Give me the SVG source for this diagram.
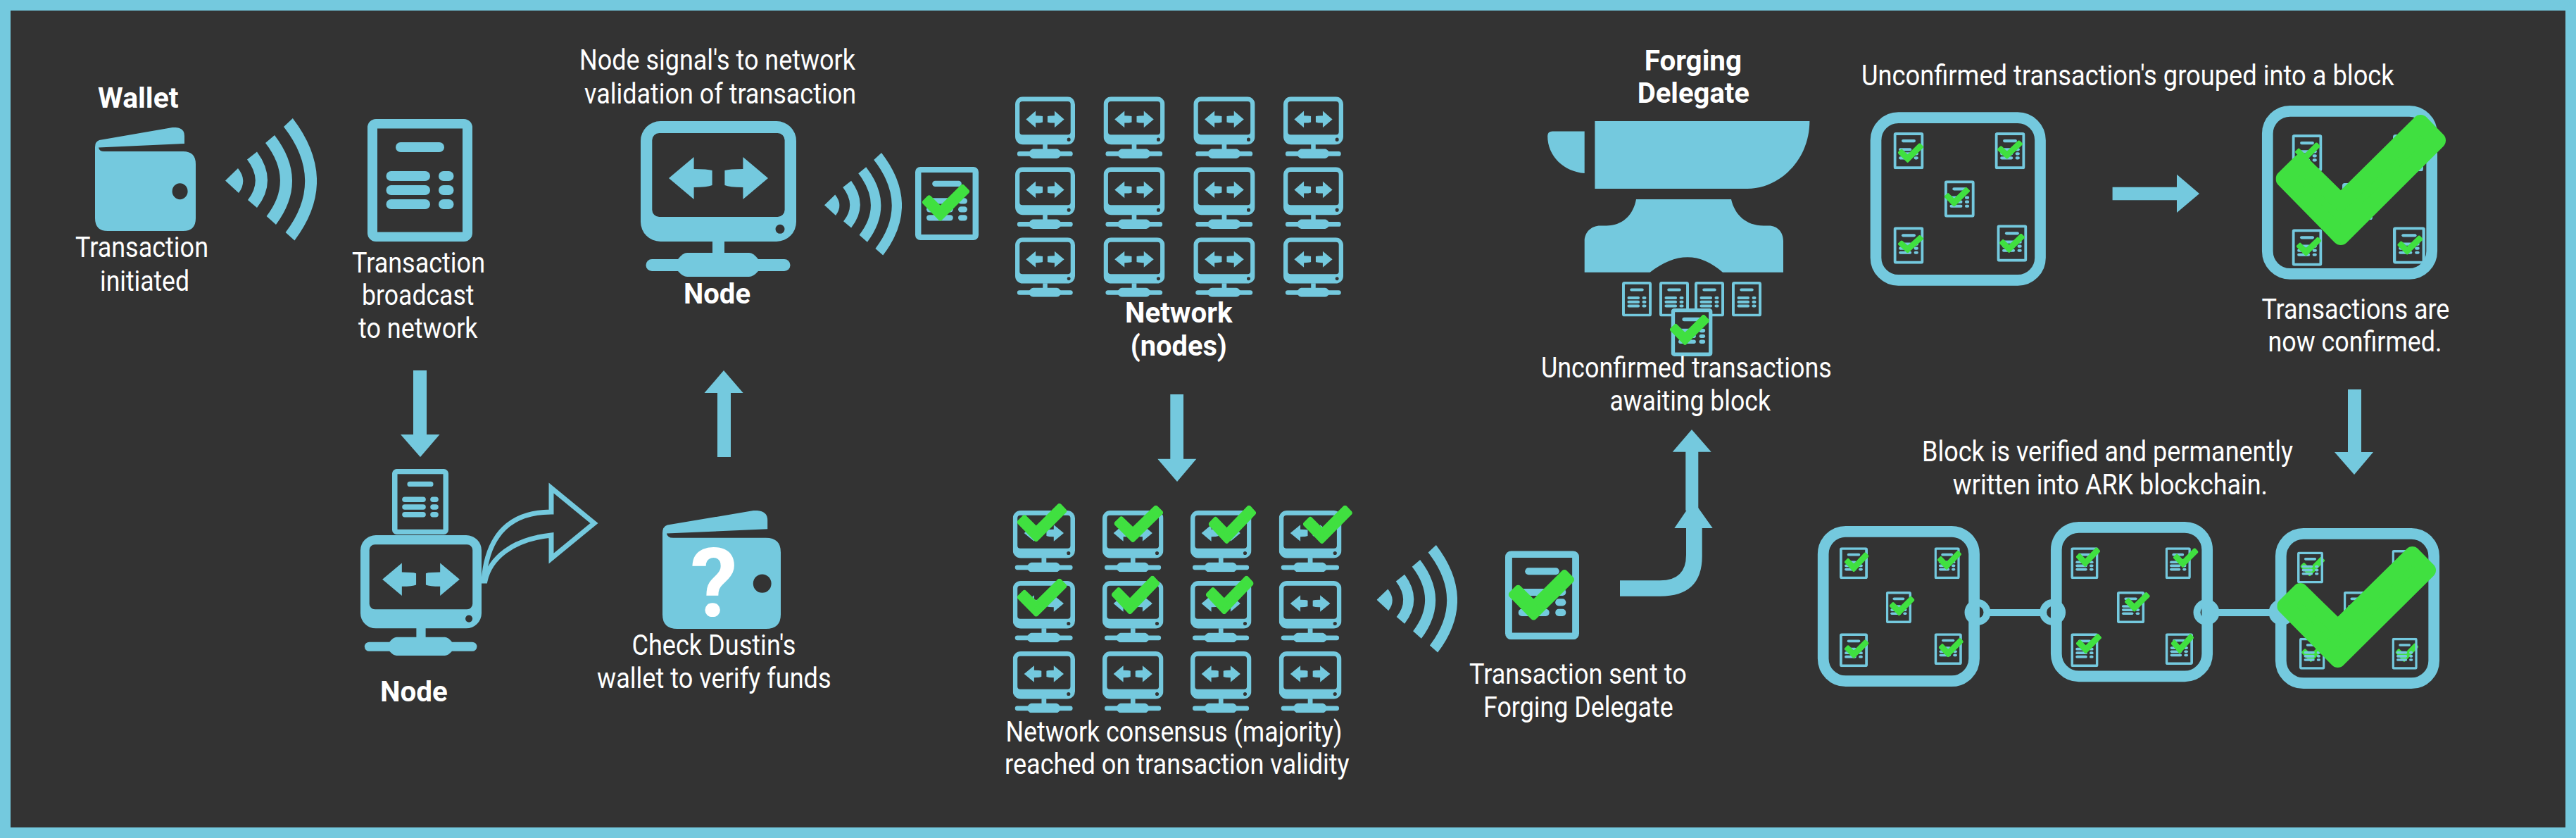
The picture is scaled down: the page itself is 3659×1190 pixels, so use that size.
<svg xmlns="http://www.w3.org/2000/svg" width="3659" height="1190" viewBox="0 0 3659 1190">
<style>
.b{fill:#74c9de}
.g{fill:#40e040;stroke:#40e040;stroke-width:24;stroke-linejoin:round}
.frame{fill:none;stroke:#74c9de;stroke-width:15.7}
.ring{fill:none;stroke:#74c9de;stroke-width:10}
text{font-family:Roboto,"Liberation Sans",sans-serif;font-size:40px;fill:#fff}
.h{font-weight:700}
</style>
<defs>
<symbol id="wallet" viewBox="0 0 143 147" preserveAspectRatio="none">
<path class="b" fill-rule="evenodd" d="M0 28Q0 20 6 18L110 0Q127 -1 127 12V23L5 28.5Q6 34 13 34H125Q143 34 143 52V129Q143 147 125 147H18Q0 147 0 129ZM109.600 90.700a11 11.500 0 1 0 22 0a11 11.500 0 1 0 -22 0Z"/>
</symbol>
<symbol id="doc" viewBox="0 0 149 174" preserveAspectRatio="none">
<path class="b" fill-rule="evenodd" d="M12 0H137A12 12 0 0 1 149 12V162A12 12 0 0 1 137 174H12A12 12 0 0 1 0 162V12A12 12 0 0 1 12 0ZM14 13.500V160.500H135V13.500Z"/>
<rect class="b" x="40" y="33" width="69" height="14" rx="7"/>
<rect class="b" x="26.500" y="74" width="62.500" height="14" rx="7"/>
<rect class="b" x="26.500" y="94" width="62.500" height="14" rx="7"/>
<rect class="b" x="26.500" y="114" width="62.500" height="14" rx="7"/>
<rect class="b" x="101" y="74" width="21.500" height="14" rx="7"/>
<rect class="b" x="101" y="94" width="21.500" height="14" rx="7"/>
<rect class="b" x="101" y="114" width="21.500" height="14" rx="7"/>
</symbol>
<symbol id="monitor" viewBox="0 0 221 221" preserveAspectRatio="none">
<path class="b" fill-rule="evenodd" d="M28 0H193A28 28 0 0 1 221 28V143A28 28 0 0 1 193 171H28A28 28 0 0 1 0 143V28A28 28 0 0 1 28 0ZM26.300 17A10 10 0 0 0 16.300 27V126A10 10 0 0 0 26.300 136H194.600A10 10 0 0 0 204.600 126V27A10 10 0 0 0 194.600 17ZM191.500 153.300a6.500 6.500 0 1 0 13 0a6.500 6.500 0 1 0 -13 0Z"/>
<rect class="b" x="102" y="170" width="17" height="20"/>
<path class="b" d="M66 187H154Q160 187 167 196V213Q160 221 154 221H66Q60 221 53 213V196Q60 187 66 187Z"/>
<rect class="b" x="7.500" y="196" width="205" height="17" rx="8.500"/>
<path class="b" d="M40 81L75.600 51V68Q95 68 101.600 70V91Q95 94 75.600 94V111Z"/>
<path class="b" d="M181 81L145.400 51V68Q126 68 119.400 70V91Q126 94 145.400 94V111Z"/>
</symbol>
<symbol id="wifi" viewBox="0 0 130 174" preserveAspectRatio="none">
<path class="b" d="M0 88.500L18 71Q32 88.500 19 106Z"/>
<path class="b" d="M45 47.500Q75 88.500 45 127L32 116Q54 88.500 31 58.500Z"/>
<path class="b" d="M70 24Q119 88 72 151L58.600 139Q98 88 57 35Z"/>
<path class="b" d="M95.800 0Q163 88 98.400 173.500L85.600 162Q142 88 83 12Z"/>
</symbol>
<symbol id="check" viewBox="0 0 241.500 186" preserveAspectRatio="none">
<polygon class="g" points="12,91 35.300,68 92.400,124 205.800,12 229.500,36.400 92.400,173"/>
</symbol>
</defs>
<rect id="background" width="3659" height="1190" fill="#74c9de"/>
<rect x="15" y="15" width="3629" height="1160" fill="#333"/>

<g id="connectors">
<path id="arrow-to-node" class="b" d="M587 526H606V617H624.500L597 649L569 617H587Z"/>
<path id="arrow-to-signal" class="b" d="M1019 649V558H1000.500L1028 526L1055.600 558H1038V649Z"/>
<path id="arrow-to-consensus" class="b" d="M1662.300 560H1681V651.700H1699.300L1672 684L1644.300 651.700H1662.300Z"/>
<path id="arrow-to-confirmed" class="b" d="M3092 265.700V247.700L3124 275L3092 302V284.300H3000.600V265.700Z"/>
<path id="arrow-to-chain" class="b" d="M3335 553H3354V642H3371L3344 674L3316 642H3335Z"/>
<path id="arrow-check-wallet" fill="none" stroke="#74c9de" stroke-width="7" stroke-linejoin="miter" d="M687 825C691 770 716 727 783 727V693L844 743L783 793V760C727 766 696 793 689 825Z"/>
<path id="arrow-to-forge-lower" class="b" d="M2301 824.300H2358Q2395 824.300 2395 788V750H2378.300L2405 711L2432.700 750H2417.700V790Q2417.700 846.700 2358 846.700H2301Z"/>
<path id="arrow-to-forge-upper" class="b" d="M2394.300 725V641.700H2375.700L2403 610L2430.700 641.700H2412.300V725Z"/>
<rect class="b" x="2825" y="865" width="75" height="10"/>
<circle class="ring" cx="2809" cy="869.500" r="13.500"/>
<circle class="ring" cx="2915.600" cy="869.500" r="13.500"/>
<rect class="b" x="3150" y="865" width="75" height="10"/>
<circle class="ring" cx="3134" cy="869.500" r="13.500"/>
<circle class="ring" cx="3241" cy="869.500" r="13.500"/>
</g>

<g id="wallet-start">
<text class="h" x="139" y="152.700" textLength="114.600" lengthAdjust="spacingAndGlyphs">Wallet</text>
<use href="#wallet" x="135" y="181" width="143" height="147"/>
<text x="107" y="365" textLength="189" lengthAdjust="spacingAndGlyphs">Transaction</text>
<text x="142" y="412.700" textLength="127" lengthAdjust="spacingAndGlyphs">initiated</text>
<use href="#wifi" x="320" y="168" width="130" height="174"/>
</g>

<g id="broadcast">
<use href="#doc" x="522" y="169" width="149" height="174"/>
<text x="500" y="387" textLength="189" lengthAdjust="spacingAndGlyphs">Transaction</text>
<text x="514" y="433" textLength="159.500" lengthAdjust="spacingAndGlyphs">broadcast</text>
<text x="509" y="480" textLength="169.600" lengthAdjust="spacingAndGlyphs">to network</text>
</g>

<g id="node-receive">
<use href="#doc" x="557" y="666" width="80" height="93"/>
<use href="#monitor" x="512" y="760" width="172" height="171"/>
<text class="h" x="540" y="996" textLength="95.700" lengthAdjust="spacingAndGlyphs">Node</text>
</g>

<g id="check-wallet">
<use href="#wallet" x="941" y="725" width="168" height="168"/>
<text class="h" x="1014" y="875" text-anchor="middle" style="font-size:135px">?</text>
<text x="897.500" y="930" textLength="233" lengthAdjust="spacingAndGlyphs">Check Dustin's</text>
<text x="848" y="977" textLength="332.600" lengthAdjust="spacingAndGlyphs">wallet to verify funds</text>
</g>

<g id="node-signal">
<text x="823" y="99" textLength="392" lengthAdjust="spacingAndGlyphs">Node signal's to network</text>
<text x="830" y="146.700" textLength="386" lengthAdjust="spacingAndGlyphs">validation of transaction</text>
<use href="#monitor" x="910" y="172" width="221" height="221"/>
<text class="h" x="971" y="430.700" textLength="95" lengthAdjust="spacingAndGlyphs">Node</text>
<use href="#wifi" x="1171" y="217" width="110" height="146"/>
<use href="#doc" x="1300" y="237" width="90" height="104"/>
<use href="#check" x="1310" y="261.700" width="67" height="52"/>
</g>

<g id="network">
<use href="#monitor" x="1442" y="137.300" width="85" height="87.700"/>
<use href="#monitor" x="1567.500" y="137.300" width="87" height="87.700"/>
<use href="#monitor" x="1695.300" y="137.300" width="87.300" height="87.700"/>
<use href="#monitor" x="1823" y="137.300" width="85" height="87.700"/>
<use href="#monitor" x="1442" y="237.300" width="85" height="87.700"/>
<use href="#monitor" x="1567.500" y="237.300" width="87" height="87.700"/>
<use href="#monitor" x="1695.300" y="237.300" width="87.300" height="87.700"/>
<use href="#monitor" x="1823" y="237.300" width="85" height="87.700"/>
<use href="#monitor" x="1442" y="337.300" width="85" height="84.400"/>
<use href="#monitor" x="1567.500" y="337.300" width="87" height="84.400"/>
<use href="#monitor" x="1695.300" y="337.300" width="87.300" height="84.400"/>
<use href="#monitor" x="1823" y="337.300" width="85" height="84.400"/>
<text class="h" x="1598" y="458" textLength="152.400" lengthAdjust="spacingAndGlyphs">Network</text>
<text class="h" x="1605.800" y="505" textLength="137" lengthAdjust="spacingAndGlyphs">(nodes)</text>
</g>

<g id="network-consensus">
<use href="#monitor" x="1438.700" y="725" width="88.300" height="87.300"/>
<use href="#monitor" x="1566" y="725" width="86.500" height="87.300"/>
<use href="#monitor" x="1691" y="725" width="86.500" height="87.300"/>
<use href="#monitor" x="1816.700" y="725" width="88.800" height="87.300"/>
<use href="#monitor" x="1438.700" y="825" width="88.300" height="87.300"/>
<use href="#monitor" x="1566" y="825" width="86.500" height="87.300"/>
<use href="#monitor" x="1691" y="825" width="86.500" height="87.300"/>
<use href="#monitor" x="1816.700" y="825" width="88.800" height="87.300"/>
<use href="#monitor" x="1438.700" y="925" width="88.300" height="87.300"/>
<use href="#monitor" x="1566" y="925" width="86.500" height="87.300"/>
<use href="#monitor" x="1691" y="925" width="86.500" height="87.300"/>
<use href="#monitor" x="1816.700" y="925" width="88.800" height="87.300"/>
<use href="#check" x="1444.800" y="715" width="70.400" height="54.300"/>
<use href="#check" x="1582.600" y="717.700" width="69.400" height="52.300"/>
<use href="#check" x="1716.700" y="717.700" width="67.300" height="54.300"/>
<use href="#check" x="1851" y="717.700" width="69.800" height="54.300"/>
<use href="#check" x="1444.800" y="821.700" width="70.400" height="54"/>
<use href="#check" x="1579" y="817.700" width="68" height="54.600"/>
<use href="#check" x="1713" y="817.700" width="67.500" height="54.600"/>
<text x="1428.500" y="1052.700" textLength="478" lengthAdjust="spacingAndGlyphs">Network consensus (majority)</text>
<text x="1427" y="1099" textLength="489.700" lengthAdjust="spacingAndGlyphs">reached on transaction validity</text>
<use href="#wifi" x="1955.500" y="774" width="114.500" height="153"/>
</g>

<g id="sent-to-delegate">
<use href="#doc" x="2138" y="782.300" width="105" height="126"/>
<use href="#check" x="2142.700" y="809" width="93.300" height="72"/>
<text x="2087" y="970.700" textLength="308.700" lengthAdjust="spacingAndGlyphs">Transaction sent to</text>
<text x="2107" y="1018" textLength="269.700" lengthAdjust="spacingAndGlyphs">Forging Delegate</text>
</g>

<g id="forging-delegate">
<text class="h" x="2335.700" y="99.600" textLength="138.300" lengthAdjust="spacingAndGlyphs">Forging</text>
<text class="h" x="2325.700" y="145.700" textLength="159.300" lengthAdjust="spacingAndGlyphs">Delegate</text>
<path class="b" d="M2205 186.400H2250.700V246C2222 244 2198 222 2198.200 193Q2198.200 186.400 2205 186.400Z"/>
<path class="b" d="M2265.400 172H2570.400C2570 230 2525 268 2482 268H2265.400Z"/>
<path class="b" d="M2324 283H2459C2464 305 2480 320.400 2505 320.400H2512.500C2525 320.400 2533 330 2533 342V386.800H2447C2415 358 2380 358 2343.600 386.800H2250.700V342C2250.700 330 2260 320.400 2273 320.400H2282C2305 320.400 2320 305 2324 283Z"/>
<use href="#doc" x="2304" y="400" width="42" height="49.600"/>
<use href="#doc" x="2357" y="400" width="42" height="49.600"/>
<use href="#doc" x="2407" y="400" width="42" height="49.600"/>
<use href="#doc" x="2460" y="400" width="42" height="49.600"/>
<rect x="2376" y="440" width="54" height="64" fill="#333"/>
<use href="#doc" x="2373.600" y="437.900" width="59" height="68"/>
<use href="#check" x="2372" y="447" width="56" height="43"/>
<text x="2189" y="536.400" textLength="412.800" lengthAdjust="spacingAndGlyphs">Unconfirmed transactions</text>
<text x="2286.400" y="583" textLength="228.600" lengthAdjust="spacingAndGlyphs">awaiting block</text>
</g>

<text x="2644" y="121" textLength="756.700" lengthAdjust="spacingAndGlyphs">Unconfirmed transaction's grouped into a block</text>

<g id="block-grouped">
<rect class="frame" x="2664.500" y="167.200" width="233.500" height="230.700" rx="32"/>
<use href="#doc" x="2689.500" y="188" width="43" height="52.300"/>
<use href="#doc" x="2833.500" y="188" width="43" height="52.300"/>
<use href="#doc" x="2761.800" y="256.300" width="43" height="52.400"/>
<use href="#doc" x="2689.500" y="322.300" width="43" height="52.400"/>
<use href="#doc" x="2836.400" y="319.300" width="43" height="52.400"/>
<use href="#check" x="2695.800" y="203.300" width="36.200" height="27.700"/>
<use href="#check" x="2837" y="199.300" width="36" height="26.400"/>
<use href="#check" x="2761.800" y="266" width="36.200" height="27.300"/>
<use href="#check" x="2695.800" y="334" width="36.200" height="25.300"/>
<use href="#check" x="2839.900" y="331.700" width="36.100" height="27.300"/>
</g>

<g id="block-confirmed">
<rect class="frame" x="3220.800" y="157.800" width="233.400" height="231" rx="32"/>
<use href="#doc" x="3255.500" y="191" width="43" height="52.300"/>
<use href="#doc" x="3399" y="191" width="43" height="52.300"/>
<use href="#doc" x="3327" y="260" width="43" height="52.300"/>
<use href="#doc" x="3255.500" y="325.300" width="43" height="52.400"/>
<use href="#doc" x="3399" y="322.300" width="45.900" height="52.400"/>
<use href="#check" x="3260" y="202.300" width="35.600" height="27.700"/>
<use href="#check" x="3261.800" y="336.700" width="35.600" height="26.600"/>
<use href="#check" x="3405.300" y="334.300" width="36.200" height="27.400"/>
<use href="#check" x="3232.500" y="163" width="241.500" height="186"/>
<text x="3212.400" y="452.700" textLength="267" lengthAdjust="spacingAndGlyphs">Transactions are</text>
<text x="3221.600" y="499.300" textLength="246.900" lengthAdjust="spacingAndGlyphs">now confirmed.</text>
</g>

<text x="2730" y="655" textLength="527" lengthAdjust="spacingAndGlyphs">Block is verified and permanently</text>
<text x="2773.800" y="702" textLength="447.200" lengthAdjust="spacingAndGlyphs">written into ARK blockchain.</text>

<g id="chain-block-1">
<rect class="frame" x="2589.700" y="754.800" width="214.400" height="212.400" rx="32"/>
<use href="#doc" x="2613" y="777.300" width="40" height="45"/>
<use href="#doc" x="2747.500" y="777.300" width="36.300" height="45"/>
<use href="#doc" x="2678.800" y="840" width="36.200" height="45"/>
<use href="#doc" x="2613" y="899.300" width="40" height="48"/>
<use href="#doc" x="2747.500" y="899.300" width="39.400" height="44.700"/>
<use href="#check" x="2620" y="784.300" width="34.400" height="28"/>
<use href="#check" x="2751.900" y="781.700" width="34.100" height="27.300"/>
<use href="#check" x="2683.800" y="846.700" width="35.600" height="27.600"/>
<use href="#check" x="2620" y="908.300" width="34.400" height="26.700"/>
<use href="#check" x="2753.800" y="906" width="35" height="27.300"/>
</g>

<g id="chain-block-2">
<rect class="frame" x="2920.800" y="748.800" width="214.400" height="211.600" rx="32"/>
<use href="#doc" x="2941.300" y="777.300" width="39.300" height="45"/>
<use href="#doc" x="3075.600" y="777.300" width="36.300" height="45"/>
<use href="#doc" x="3006.900" y="840" width="39.400" height="45"/>
<use href="#doc" x="2941.300" y="899.300" width="39.300" height="48"/>
<use href="#doc" x="3075.600" y="899.300" width="39.400" height="44.700"/>
<use href="#check" x="2948.800" y="777.300" width="34.200" height="27.700"/>
<use href="#check" x="3086.900" y="778.300" width="35.600" height="27.700"/>
<use href="#check" x="3018" y="841" width="35.800" height="27.700"/>
<use href="#check" x="2948.800" y="900" width="36.200" height="28.300"/>
<use href="#check" x="3083.800" y="900" width="32.200" height="28.300"/>
</g>

<g id="chain-block-3">
<rect class="frame" x="3239.800" y="757.800" width="217.400" height="212.400" rx="32"/>
<use href="#check" x="3267.500" y="790.700" width="34.500" height="27.600"/>
<use href="#check" x="3269" y="913.300" width="35" height="26.700"/>
<use href="#check" x="3402.500" y="913.300" width="32.500" height="26.700"/>
<use href="#doc" x="3263" y="783.500" width="37" height="45"/>
<use href="#doc" x="3397.500" y="781" width="36.300" height="45"/>
<use href="#doc" x="3328.800" y="840" width="36.200" height="45"/>
<use href="#doc" x="3266" y="905.700" width="36.500" height="45"/>
<use href="#doc" x="3397.500" y="905.700" width="36.300" height="45"/>
<use href="#check" x="3234.300" y="776" width="225.700" height="173"/>
</g>
</svg>
